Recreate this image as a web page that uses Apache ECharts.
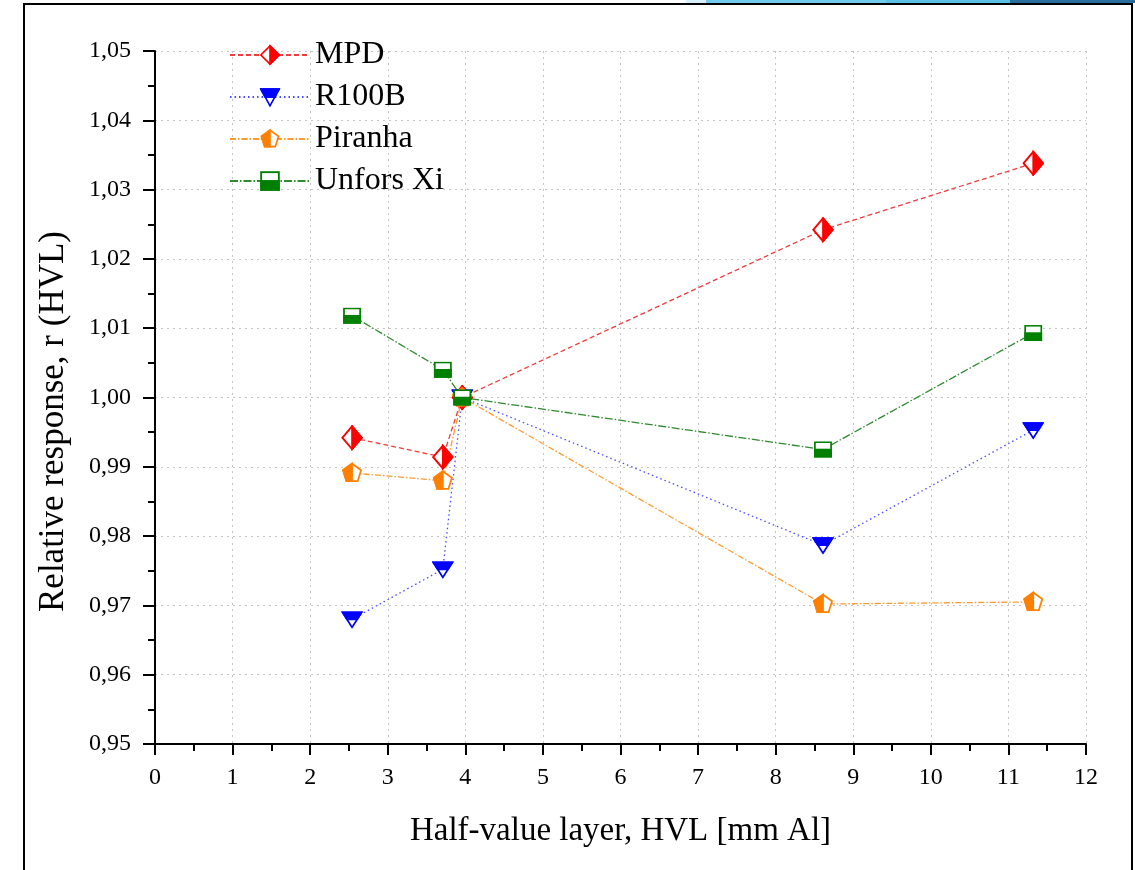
<!DOCTYPE html>
<html>
<head>
<meta charset="utf-8">
<script src="https://cdn.jsdelivr.net/npm/echarts@6/dist/echarts.min.js"></script>
<style>
html,body{margin:0;padding:0;background:#fff;}
#chart{width:1135px;height:870px;}
</style>
</head>
<body>
<div id="chart"></div>
<script>
// ---- data ----
const hvl = [2.54, 3.71, 3.96, 8.61, 11.32];
const mpd = [0.9942, 0.9914, 1.0000, 1.0242, 1.0338];
const r100b = [0.9680, 0.9752, 1.0000, 0.9787, 0.9953];
const piranha = [0.9891, 0.9880, 1.0000, 0.9702, 0.9705];
const unfors = [1.0118, 1.0040, 1.0000, 0.9925, 1.0093];
const seriesNames = ['MPD', 'R100B', 'Piranha', 'Unfors Xi'];
const yTicks = [0.95, 0.96, 0.97, 0.98, 0.99, 1.00, 1.01, 1.02, 1.03, 1.04, 1.05];
const xTicks = [0,1,2,3,4,5,6,7,8,9,10,11,12];

function svgSym(inner, w, h) {
  const svg = '<svg xmlns="http://www.w3.org/2000/svg" width="' + w + '" height="' + h + '" viewBox="0 0 20 20" preserveAspectRatio="none">' + inner + '</svg>';
  return 'image://data:image/svg+xml;charset=utf-8,' + encodeURIComponent(svg);
}
const symDiamond = svgSym(
  '<polygon points="10,1.2 18.8,10 10,18.8 1.2,10" fill="#fff" stroke="#ff0000" stroke-width="1.6"/>' +
  '<polygon points="10,1.2 18.8,10 10,18.8" fill="#ff0000" stroke="#ff0000" stroke-width="1.6"/>', 40, 48);
const symTri = svgSym(
  '<polygon points="1.2,2.5 18.8,2.5 10,18.5" fill="#fff" stroke="#0000ff" stroke-width="1.6"/>' +
  '<polygon points="1.2,2.5 18.8,2.5 14.6,10.2 5.4,10.2" fill="#0000ff" stroke="#0000ff" stroke-width="1.6"/>', 40, 36);
const symPent = svgSym(
  '<polygon points="10,1.5 18.2,7.4 15.1,17.4 4.9,17.4 1.8,7.4" fill="#fff" stroke="#ff8000" stroke-width="1.6"/>' +
  '<polygon points="10,1.5 1.8,7.4 4.9,17.4 10,17.4" fill="#ff8000" stroke="#ff8000" stroke-width="1.6"/>', 40, 40);
const symSq = svgSym(
  '<rect x="1.5" y="1.5" width="17" height="17" fill="#fff" stroke="#008000" stroke-width="1.8"/>' +
  '<rect x="1.5" y="10" width="17" height="8.5" fill="#008000" stroke="#008000" stroke-width="1.8"/>', 40, 36);

function pairs(ys) { return hvl.map((x, i) => [x, ys[i]]); }

const chart = echarts.init(document.getElementById('chart'), null, {renderer: 'canvas'});
const fontFam = '"Liberation Serif", "Times New Roman", serif';

function mk(name, ys, color, lineColor, type, sym, size) {
  return {
    name: name, type: 'line', data: pairs(ys),
    symbol: sym, symbolSize: size,
    lineStyle: {color: lineColor, width: 1.3, type: type},
    itemStyle: {color: color},
    emphasis: {disabled: true},
    animation: false
  };
}

chart.setOption({
  animation: false,
  backgroundColor: '#fff',
  grid: {left: 155, right: 49, top: 51, bottom: 126, containLabel: false},
  legend: {
    left: 224, top: 34, orient: 'vertical', itemGap: 10,
    itemWidth: 80, itemHeight: 26,
    textStyle: {fontFamily: fontFam, fontSize: 32, lineHeight: 32, color: '#000'},
    data: seriesNames
  },
  xAxis: {
    type: 'value', min: 0, max: 12, interval: 1,
    name: 'Half-value layer, HVL [mm Al]', nameLocation: 'middle', nameGap: 71,
    nameTextStyle: {fontFamily: fontFam, fontSize: 33, color: '#000'},
    axisLine: {show: true, onZero: false, lineStyle: {color: '#000', width: 2}},
    axisTick: {show: true, inside: false, length: 11, lineStyle: {color: '#000', width: 2}},
    minorTick: {show: true, splitNumber: 2, length: 7, lineStyle: {color: '#000', width: 2}},
    axisLabel: {fontFamily: fontFam, fontSize: 24, color: '#000', margin: 22,
      formatter: v => xTicks.indexOf(v) >= 0 ? String(v) : ''},
    splitLine: {show: true, lineStyle: {color: '#c4c4c4', width: 1, type: [2, 4]}}
  },
  yAxis: {
    type: 'value', min: 0.95, max: 1.05, interval: 0.01,
    name: 'Relative response, r (HVL)', nameLocation: 'middle', nameGap: 84,
    nameTextStyle: {fontFamily: fontFam, fontSize: 35, color: '#000', padding: [0, 48, 0, 0]},
    axisLine: {show: true, onZero: false, lineStyle: {color: '#000', width: 2}},
    axisTick: {show: true, inside: false, length: 12, lineStyle: {color: '#000', width: 2}},
    minorTick: {show: true, splitNumber: 2, length: 7, lineStyle: {color: '#000', width: 2}},
    axisLabel: {fontFamily: fontFam, fontSize: 24, color: '#000', margin: 24,
      formatter: v => {
        const t = yTicks.find(k => Math.abs(k - v) < 1e-6);
        return t === undefined ? '' : t.toFixed(2).replace('.', ',');
      }},
    splitLine: {show: true, lineStyle: {color: '#c4c4c4', width: 1, type: [2, 4]}}
  },
  series: [
    mk('MPD', mpd, '#ff0000', '#f03c3c', [5, 3], symDiamond, [22, 26]),
    mk('R100B', r100b, '#0000ff', '#4a4aff', [1.5, 3], symTri, [22, 19]),
    mk('Piranha', piranha, '#ff8000', '#ff9a2e', [6, 2, 1.5, 2], symPent, [22, 22]),
    mk('Unfors Xi', unfors, '#008000', '#2e8b2e', [8, 2, 1.5, 2], symSq, [19, 17])
  ],
  graphic: [
    {type: 'rect', shape: {x: 24, y: 4, width: 1108, height: 880}, style: {fill: 'none', stroke: '#000', lineWidth: 2}, silent: true, z: 100},
    {type: 'rect', shape: {x: 686, y: 0, width: 20, height: 3}, style: {fill: '#d8eef8'}, silent: true},
    {type: 'rect', shape: {x: 706, y: 0, width: 180, height: 3}, style: {fill: '#72cbea'}, silent: true},
    {type: 'rect', shape: {x: 886, y: 0, width: 124, height: 3}, style: {fill: '#5bc0e6'}, silent: true},
    {type: 'rect', shape: {x: 1010, y: 0, width: 125, height: 3}, style: {fill: '#2a6e9e'}, silent: true}
  ]
});
</script>
</body>
</html>
